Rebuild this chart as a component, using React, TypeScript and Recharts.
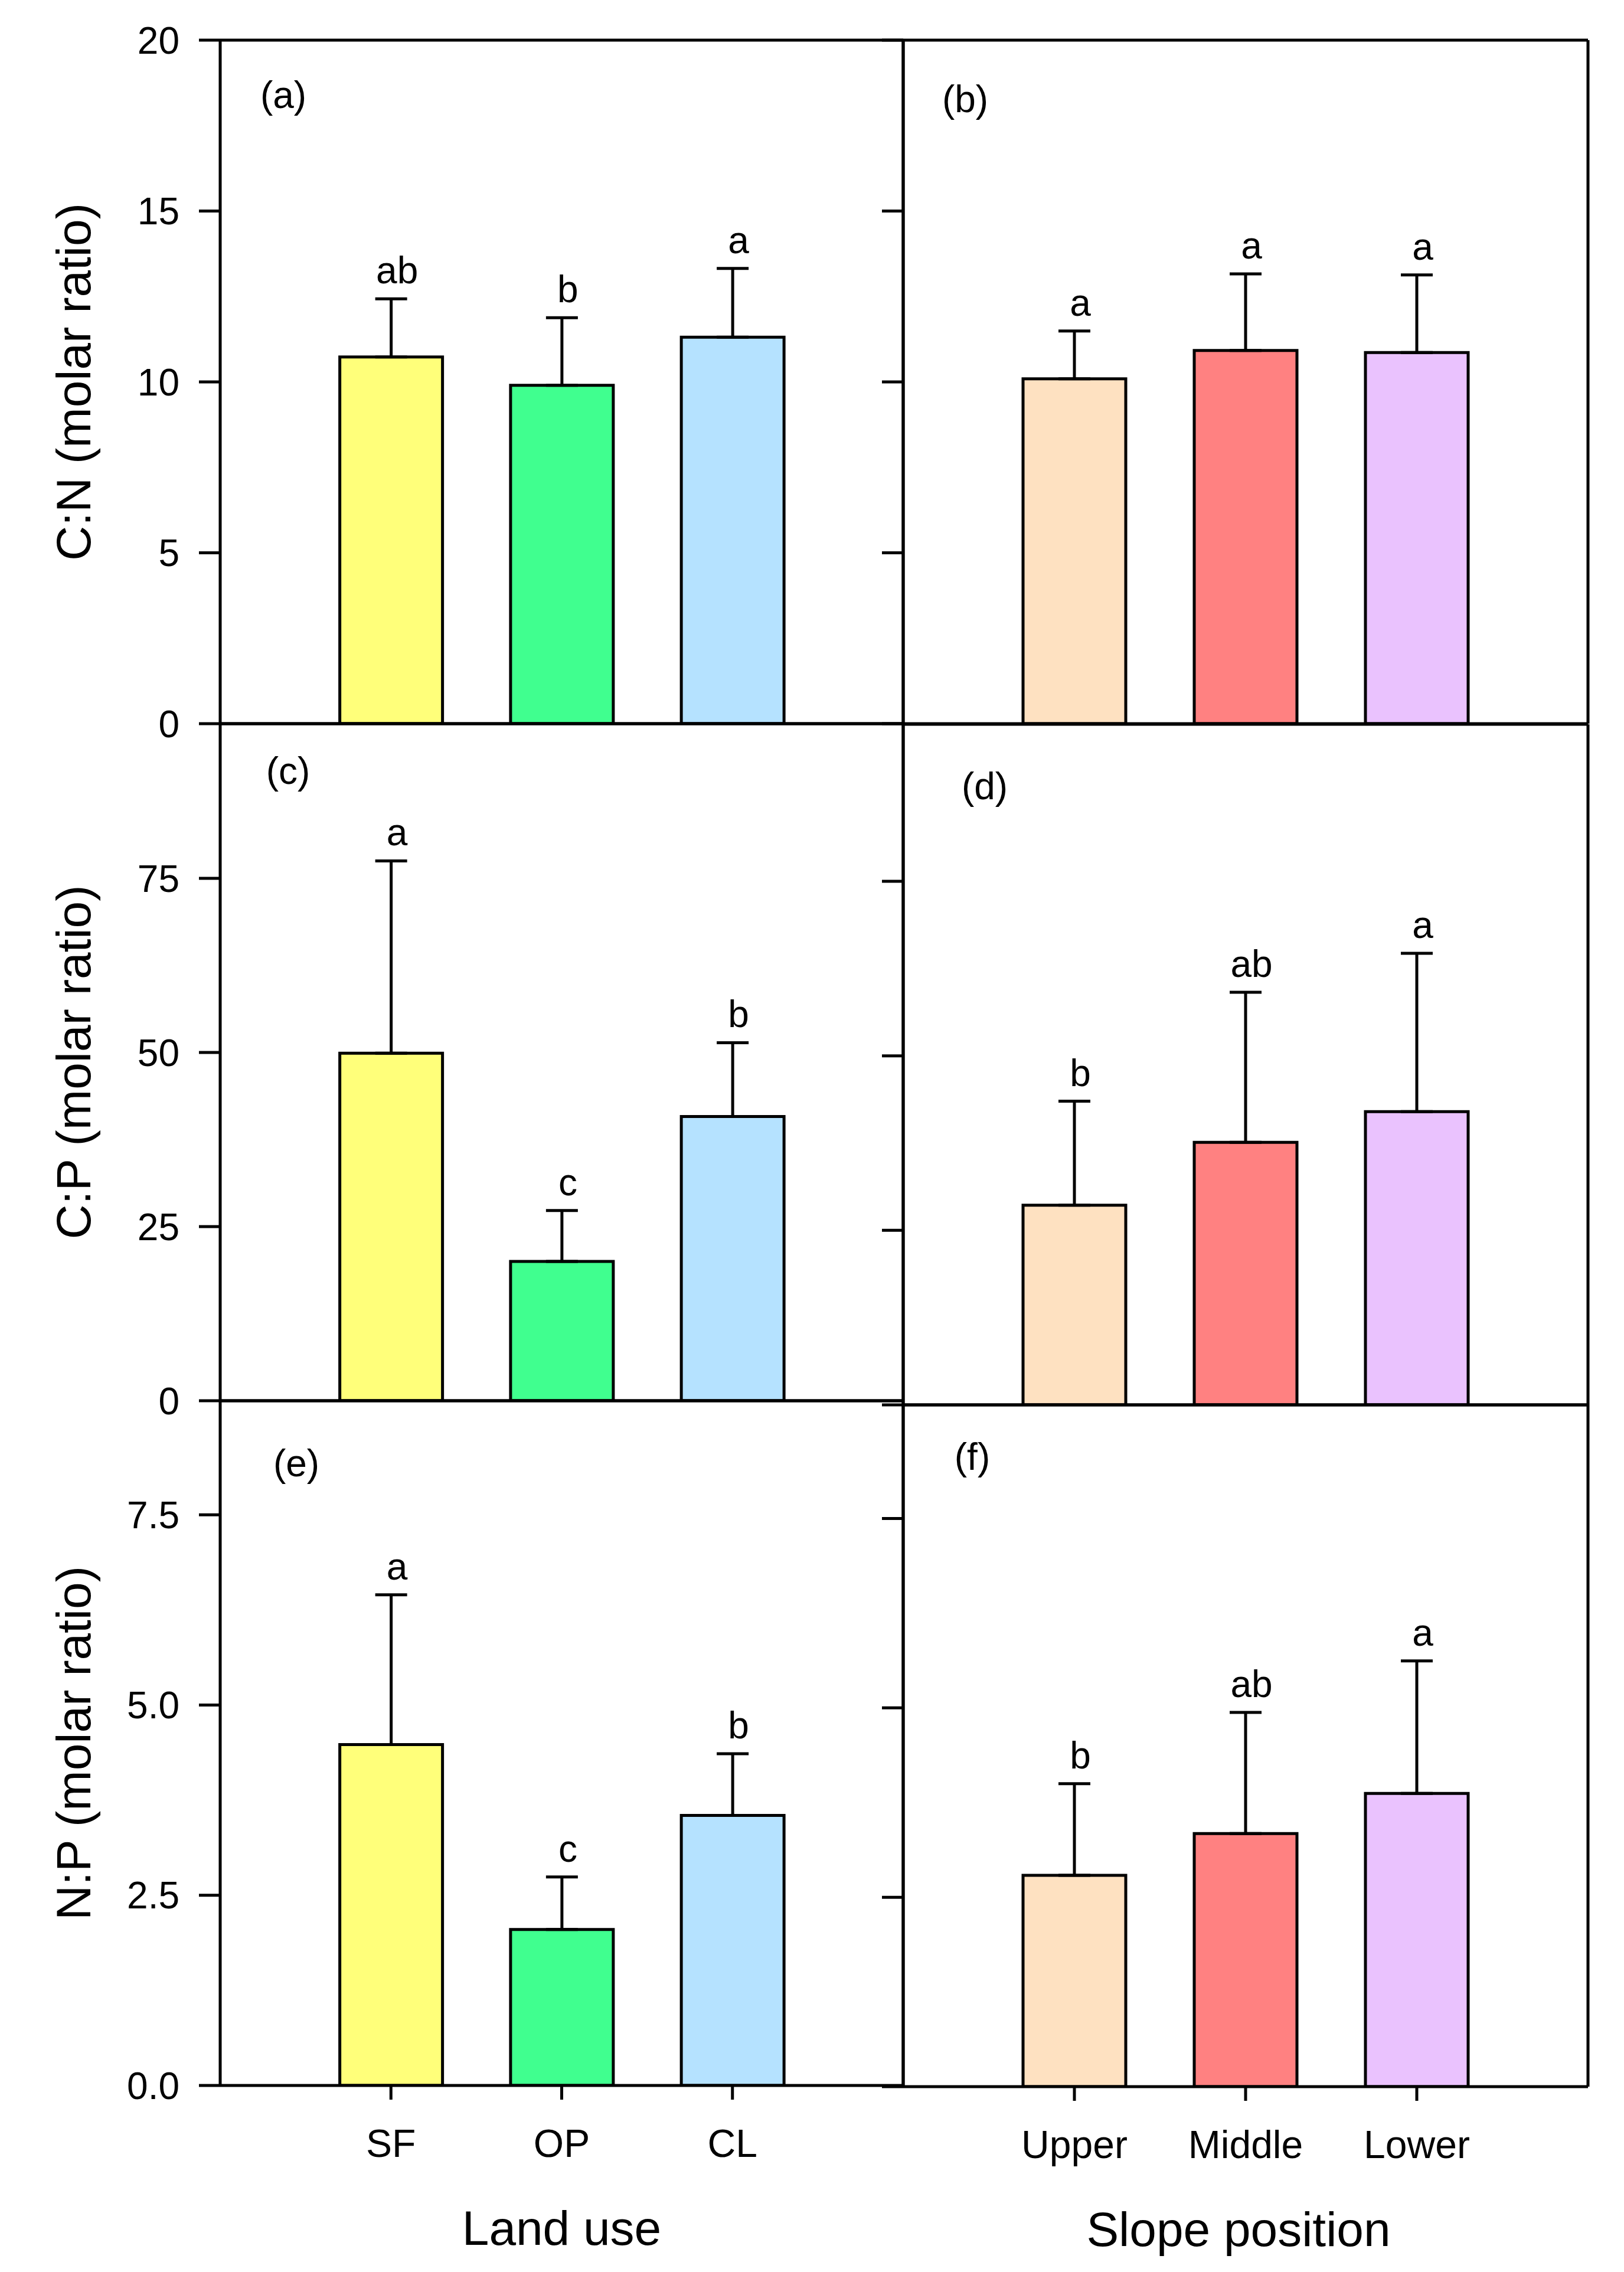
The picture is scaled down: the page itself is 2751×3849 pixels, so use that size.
import React from "react";
import { BarChart, Bar, XAxis, YAxis, ErrorBar, LabelList, Cell, Label } from "recharts";

// categories
const landUse = ["SF", "OP", "CL"];
const slopePosition = ["Upper", "Middle", "Lower"];

const landColors = ["#FFFF7A", "#40FF8F", "#B5E2FF"];
const slopeColors = ["#FEE1C1", "#FF8181", "#EAC2FE"];

// C:N
const cnLand = [10.73, 9.9, 11.31];
const cnLandSe = [1.7, 1.98, 2.01];
const cnLandSig = ["ab", "b", "a"];
const cnSlope = [10.09, 10.92, 10.86];
const cnSlopeSe = [1.4, 2.24, 2.27];
const cnSlopeSig = ["a", "a", "a"];

// C:P
const cpLand = [49.9, 20.0, 40.8];
const cpLandSe = [27.6, 7.3, 10.6];
const cpLandSig = ["a", "c", "b"];
const cpSlope = [28.6, 37.6, 42.0];
const cpSlopeSe = [14.9, 21.5, 22.7];
const cpSlopeSig = ["b", "ab", "a"];

// N:P
const npLand = [4.48, 2.05, 3.55];
const npLandSe = [1.97, 0.69, 0.81];
const npLandSig = ["a", "c", "b"];
const npSlope = [2.79, 3.34, 3.87];
const npSlopeSe = [1.21, 1.6, 1.75];
const npSlopeSig = ["b", "ab", "a"];

const cnTicks = [0, 5, 10, 15, 20];
const cpTicks = [0, 25, 50, 75];
const npTicks = [0, 2.5, 5, 7.5];

const FONT = "'Liberation Sans', Arial, Helvetica, sans-serif";
const SW = 5;
const line = { stroke: "#000", strokeWidth: SW };

type Row = { name: string; value: number; se: number; range: [number, number]; sig: string };

const rows = (names: string[], values: number[], se: number[], sig: string[]): Row[] =>
  names.map((name, i) => ({ name, value: values[i], se: se[i], range: [0, se[i]], sig: sig[i] }));

const panels = [
  { tag: "(a)", data: rows(landUse, cnLand, cnLandSe, cnLandSig), colors: landColors, max: 20, ticks: cnTicks, digits: 0,
    x: 373, y: 68, w: 1157, h: 1158, side: "left", bottom: false, yTitle: "C:N (molar ratio)", tagAt: [107, 115] },
  { tag: "(b)", data: rows(slopePosition, cnSlope, cnSlopeSe, cnSlopeSig), colors: slopeColors, max: 20, ticks: cnTicks, digits: 0,
    x: 1530, y: 68, w: 1160, h: 1158, side: "right", bottom: false, tagAt: [105, 122] },
  { tag: "(c)", data: rows(landUse, cpLand, cpLandSe, cpLandSig), colors: landColors, max: 97.2, ticks: cpTicks, digits: 0,
    x: 373, y: 1226, w: 1157, h: 1147, side: "left", bottom: false, yTitle: "C:P (molar ratio)", tagAt: [115, 102] },
  { tag: "(d)", data: rows(slopePosition, cpSlope, cpSlopeSe, cpSlopeSig), colors: slopeColors, max: 97.5, ticks: cpTicks, digits: 0,
    x: 1530, y: 1227, w: 1160, h: 1153, side: "right", bottom: false, tagAt: [138, 127] },
  { tag: "(e)", data: rows(landUse, npLand, npLandSe, npLandSig), colors: landColors, max: 9, ticks: npTicks, digits: 1,
    x: 373, y: 2373, w: 1157, h: 1160, side: "left", bottom: true, yTitle: "N:P (molar ratio)", xTitle: "Land use", xTitleDx: 0, tagAt: [129, 128] },
  { tag: "(f)", data: rows(slopePosition, npSlope, npSlopeSe, npSlopeSig), colors: slopeColors, max: 9, ticks: npTicks, digits: 1,
    x: 1530, y: 2380, w: 1160, h: 1155, side: "right", bottom: true, xTitle: "Slope position", xTitleDx: -12, tagAt: [117, 110] },
];

const textStyle = { fontFamily: FONT, fill: "#000" };

const sigLabel = (data: Row[]) => (props: any) => {
  const vb = props.viewBox ?? props;
  const row = data[props.index];
  if (!row || !vb || !vb.height) return null;
  const top = Math.min(vb.y, vb.y + vb.height);
  const capY = top - (row.se * Math.abs(vb.height)) / row.value;
  return (
    <text x={vb.x + vb.width / 2 + 10} y={capY - 26} textAnchor="middle" fontSize={64} {...textStyle}>
      {row.sig}
    </text>
  );
};

// tick marks without numbers (right-hand panels)
const NoLabel = () => <g />;

const Panel = ({ p }: { p: any }) => {
  const left = p.side === "left";
  const yW = left ? 373 : 50;
  const mTop = 50;
  const mRight = 20;
  const mBottom = p.bottom ? 0 : 50;
  const xH = p.bottom ? 300 : 1;
  const width = yW + p.w + 1 + mRight;
  const height = mTop + 1 + p.h + xH + mBottom;
  const pad = { left: p.w / 8, right: p.w / 8 };

  return (
    <div style={{ position: "absolute", left: p.x - yW, top: p.y - mTop - 1 }}>
      <BarChart width={width} height={height} data={p.data} barSize={174}
        margin={{ top: mTop, right: mRight, bottom: mBottom, left: 0 }}>
        <XAxis dataKey="name" type="category" padding={pad} height={xH} interval={0}
          axisLine={line} tickLine={p.bottom ? line : false} tickSize={24} tickMargin={50}
          tick={p.bottom ? { fontSize: 66, ...textStyle } : false}>
          {p.xTitle && (
            <Label content={(lp: any) => {
              const vb = lp.viewBox;
              return (
                <text x={vb.x + vb.width / 2 + p.xTitleDx} y={vb.y + 270} textAnchor="middle" fontSize={82} {...textStyle}>
                  {p.xTitle}
                </text>
              );
            }} />
          )}
        </XAxis>
        <XAxis xAxisId="top" orientation="top" dataKey="name" type="category" padding={pad} height={1}
          axisLine={line} tick={false} tickLine={false}>
          <Label content={(lp: any) => {
            const vb = lp.viewBox;
            return (
              <text x={vb.x + p.tagAt[0]} y={vb.y + vb.height + p.tagAt[1]} textAnchor="middle" fontSize={64} {...textStyle}>
                {p.tag}
              </text>
            );
          }} />
        </XAxis>
        <YAxis type="number" domain={[0, p.max]} ticks={p.ticks} allowDataOverflow width={yW} interval={0}
          axisLine={line} tickLine={line} tickSize={36} tickMargin={33}
          tick={left ? { fontSize: 64, ...textStyle } : <NoLabel />}
          tickFormatter={(v: number) => v.toFixed(p.digits)}>
          {p.yTitle && (
            <Label content={(lp: any) => {
              const vb = lp.viewBox;
              const cx = vb.x + 153;
              const cy = vb.y + vb.height / 2;
              return (
                <text x={cx} y={cy} transform={`rotate(-90 ${cx} ${cy})`} textAnchor="middle" fontSize={82} {...textStyle}>
                  {p.yTitle}
                </text>
              );
            }} />
          )}
        </YAxis>
        <YAxis yAxisId="right" orientation="right" type="number" domain={[0, p.max]} allowDataOverflow width={1}
          axisLine={line} tick={false} tickLine={false} />
        <Bar dataKey="value" stroke="#000" strokeWidth={SW} isAnimationActive={false}>
          {p.data.map((r: Row, i: number) => (
            <Cell key={r.name} fill={p.colors[i]} />
          ))}
          <ErrorBar dataKey="range" direction="y" width={27} stroke="#000" strokeWidth={SW} isAnimationActive={false} />
          <LabelList dataKey="sig" content={sigLabel(p.data)} />
        </Bar>
      </BarChart>
    </div>
  );
};

export default function App() {
  return (
    <div style={{ position: "absolute", left: 0, top: 0, width: 2751, height: 3849, background: "#fff", overflow: "hidden", fontFamily: FONT }}>
      {panels.map((p) => (
        <Panel key={p.tag} p={p} />
      ))}
    </div>
  );
}
